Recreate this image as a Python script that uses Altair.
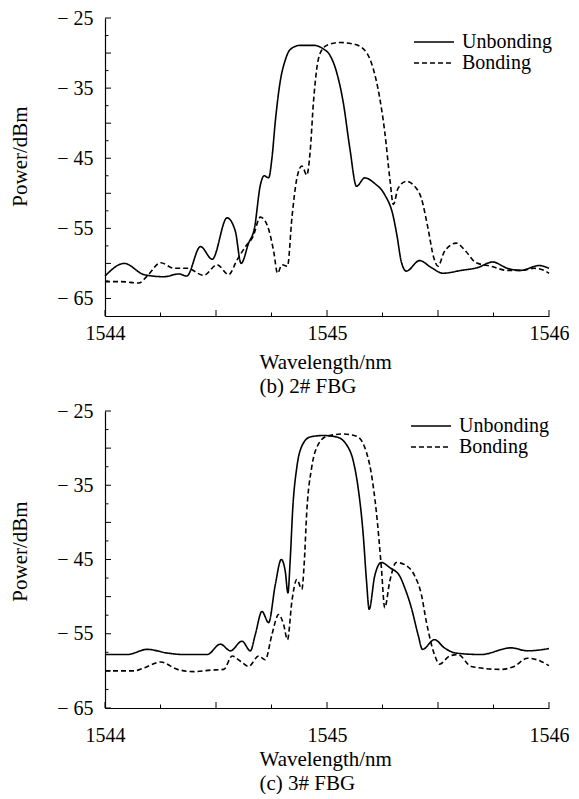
import altair as alt
import pandas as pd

FONT = "Liberation Serif"

# ---------------- (b) 2# FBG ----------------
b_unb_wl = [1544.0, 1544.087, 1544.176, 1544.266, 1544.333, 1544.368, 1544.43, 1544.483, 1544.55, 1544.587,
            1544.613, 1544.647, 1544.673, 1544.70, 1544.717, 1544.737, 1544.752, 1544.767, 1544.789, 1544.812,
            1544.834, 1544.879, 1544.939, 1544.983, 1545.013, 1545.043, 1545.073, 1545.103, 1545.133, 1545.170,
            1545.215, 1545.26, 1545.297, 1545.315, 1545.335, 1545.357, 1545.417, 1545.47, 1545.522, 1545.604,
            1545.678, 1545.746, 1545.813, 1545.873, 1545.955, 1546.0]
b_unb_pw = [-61.8, -60.0, -61.6, -61.9, -61.5, -61.8, -57.6, -59.4, -53.5, -55.4,
            -60.0, -57.1, -55.0, -48.8, -47.5, -47.8, -45.0, -39.8, -34.1, -31.0,
            -29.5, -28.9, -28.9, -29.4, -30.3, -32.7, -37.0, -43.6, -49.0, -47.8,
            -48.6, -50.2, -53.1, -56.0, -59.8, -61.1, -59.6, -60.6, -61.4, -61.0,
            -60.6, -59.8, -60.7, -61.0, -60.3, -60.7]

b_bond_wl = [1544.0, 1544.072, 1544.152, 1544.19, 1544.251, 1544.311, 1544.371, 1544.445, 1544.505, 1544.557,
             1544.595, 1544.64, 1544.665, 1544.70, 1544.73, 1544.76, 1544.777, 1544.797, 1544.822, 1544.842,
             1544.864, 1544.887, 1544.909, 1544.924, 1544.939, 1544.954, 1544.976, 1545.006, 1545.058, 1545.118,
             1545.170, 1545.208, 1545.238, 1545.26, 1545.283, 1545.299, 1545.32, 1545.357, 1545.395, 1545.425,
             1545.455, 1545.481, 1545.5, 1545.529, 1545.582, 1545.626, 1545.671, 1545.739, 1545.813, 1545.873,
             1545.933, 1545.97, 1546.0]
b_bond_pw = [-62.6, -62.6, -62.8, -61.8, -59.9, -60.7, -60.7, -61.7, -60.2, -61.6,
             -59.5, -57.3, -56.3, -53.4, -54.5, -58.3, -61.4, -60.2, -60.4, -53.5,
             -47.9, -46.1, -47.4, -44.1, -37.0, -32.2, -29.6, -28.8, -28.5, -28.7,
             -29.6, -32.2, -36.5, -41.2, -47.9, -51.6, -49.3, -48.3, -49.0, -50.7,
             -55.0, -59.2, -60.4, -58.3, -57.1, -58.3, -59.9, -60.4, -61.0, -61.0,
             -60.7, -60.9, -61.4]

# ---------------- (c) 3# FBG ----------------
c_unb_wl = [1544.0, 1544.10, 1544.19, 1544.28, 1544.356, 1544.46, 1544.52, 1544.565, 1544.617, 1544.655,
            1544.677, 1544.707, 1544.737, 1544.767, 1544.794, 1544.812, 1544.824, 1544.834, 1544.846, 1544.864,
            1544.887, 1544.924, 1544.983, 1545.043, 1545.087, 1545.118, 1545.140, 1545.163, 1545.178, 1545.19,
            1545.215, 1545.245, 1545.283, 1545.327, 1545.35, 1545.38, 1545.41, 1545.43, 1545.484, 1545.529,
            1545.58, 1545.694, 1545.828, 1545.903, 1546.0]
c_unb_pw = [-57.8, -57.8, -57.1, -57.6, -57.8, -57.8, -56.4, -57.3, -56.0, -57.3,
            -55.1, -52.0, -53.5, -48.4, -45.0, -46.6, -49.5, -45.2, -38.0, -32.6,
            -29.7, -28.5, -28.3, -28.5, -29.5, -31.7, -35.3, -41.6, -47.9, -51.7,
            -47.2, -45.4, -46.1, -47.2, -48.8, -51.5, -55.1, -57.1, -55.8, -56.9,
            -57.6, -57.8, -56.9, -57.3, -57.0]

c_bond_wl = [1544.0, 1544.13, 1544.176, 1544.251, 1544.326, 1544.40, 1544.475, 1544.535, 1544.573, 1544.61,
             1544.647, 1544.692, 1544.722, 1544.752, 1544.782, 1544.804, 1544.822, 1544.842, 1544.864, 1544.887,
             1544.897, 1544.909, 1544.931, 1544.954, 1544.999, 1545.073, 1545.133, 1545.170, 1545.2, 1545.222,
             1545.245, 1545.26, 1545.283, 1545.312, 1545.35, 1545.395, 1545.425, 1545.447, 1545.484, 1545.507,
             1545.552, 1545.59, 1545.65, 1545.783, 1545.843, 1545.903, 1545.963, 1546.0]
c_bond_pw = [-60.0, -60.0, -59.6, -58.8, -59.8, -60.1, -59.9, -59.8, -58.0, -58.7,
             -59.4, -58.0, -58.5, -55.1, -52.4, -53.7, -55.8, -50.6, -47.7, -49.0,
             -45.7, -38.5, -32.6, -29.9, -28.4, -28.1, -28.4, -29.9, -33.5, -38.5,
             -46.1, -51.5, -47.9, -45.4, -45.7, -47.2, -49.7, -53.3, -57.8, -59.1,
             -58.0, -57.8, -59.4, -59.8, -59.4, -58.3, -58.7, -59.3]

series_names = ["Unbonding", "Bonding"]
x_label_vals = [1544, 1545, 1546]
y_label_vals = [-25, -35, -45, -55, -65]
x_major_ticks = [1544.0, 1544.5, 1545.0, 1545.5, 1546.0]
x_minor_ticks = [1544.25, 1544.75, 1545.25, 1545.75]
y_major_ticks = [-25, -30, -35, -40, -45, -50, -55, -60, -65]
y_minor_ticks = [-27.5, -32.5, -37.5, -42.5, -47.5, -52.5, -57.5, -62.5]

W = 444


def panel(unb_wl, unb_pw, bond_wl, bond_pw, ymin, height, caption,
          xlab_pad, xtitle_y, ytitle_y, leg_x, leg_y):
    df = pd.DataFrame({
        "wl": unb_wl + bond_wl,
        "pw": unb_pw + bond_pw,
        "series": [series_names[0]] * len(unb_wl) + [series_names[1]] * len(bond_wl),
    })
    xs = alt.Scale(domain=[1544, 1546], nice=False, zero=False)
    ys = alt.Scale(domain=[ymin, -25], nice=False, zero=False)

    xaxis = alt.Axis(
        values=x_label_vals, labelExpr="'' + round(datum.value)", ticks=False, tickSize=0, grid=False,
        labelPadding=xlab_pad, labelBaseline="alphabetic", labelFlush=False, labelOverlap=False,
        labelAlign="center",
        title=["Wavelength/nm", caption], titleAlign="left", titleX=154, titleY=xtitle_y,
        titleBaseline="alphabetic", titleLineHeight=24.5, titleFontSize=21)
    yaxis = alt.Axis(
        values=y_label_vals, ticks=False, tickSize=0, grid=False,
        labelExpr="datum.value < 0 ? '\u2212 ' + abs(datum.value) : '' + datum.value",
        labelPadding=12, labelFlush=False, labelOverlap=False,
        title="Power/dBm", titleX=-79, titleY=ytitle_y, titleFontSize=21,
        titleBaseline="alphabetic", titleAlign="center")

    lines = alt.Chart(df).mark_line(color="black", strokeWidth=1.6, interpolate="monotone").encode(
        x=alt.X("wl:Q", scale=xs, axis=xaxis),
        y=alt.Y("pw:Q", scale=ys, axis=yaxis),
        strokeDash=alt.StrokeDash("series:N", sort=series_names,
                                  scale=alt.Scale(domain=series_names, range=[[1, 0], [5, 3]]),
                                  legend=alt.Legend(orient="none", legendX=leg_x, legendY=leg_y, title=None,
                                                    symbolType="M-2,0H2", symbolSize=400,
                                                    symbolStrokeWidth=1.6, symbolStrokeColor="black",
                                                    symbolFillColor="transparent",
                                                    labelFont=FONT, labelFontSize=20, labelColor="black",
                                                    labelOffset=17, padding=0, rowPadding=0)),
    )

    def xt(vals, ln):
        return alt.Chart(pd.DataFrame({"wl": vals})).mark_rule(color="black", strokeWidth=1).encode(
            x=alt.X("wl:Q", scale=xs, axis=xaxis), y=alt.value(height), y2=alt.value(height - ln))

    def yt(vals, ln):
        return alt.Chart(pd.DataFrame({"pw": vals})).mark_rule(color="black", strokeWidth=1).encode(
            y=alt.Y("pw:Q", scale=ys, axis=yaxis), x=alt.value(0), x2=alt.value(ln))

    return alt.layer(lines, xt(x_major_ticks, 6), xt(x_minor_ticks, 3.5),
                     yt(y_major_ticks, 6), yt(y_minor_ticks, 3.5)).properties(width=W, height=height)


top = panel(b_unb_wl, b_unb_pw, b_bond_wl, b_bond_pw, -67.5, 298, "(b) 2# FBG",
            23, 52, 138, 318, 13)
bottom = panel(c_unb_wl, c_unb_pw, c_bond_wl, c_bond_pw, -65, 297, "(c) 3# FBG",
               33, 57, 140, 315, 4)

chart = alt.vconcat(top, bottom, spacing=4).resolve_legend(strokeDash="independent").resolve_scale(
    x="independent", y="independent", strokeDash="independent"
).configure_view(stroke=None).configure_axis(
    domainColor="black", domainWidth=1.2, labelFont=FONT, labelFontSize=20, labelColor="black",
    titleFont=FONT, titleFontSize=21, titleFontWeight="normal", titleColor="black"
).properties(padding=0, background="white")

chart.save("out.html", embed_options={"renderer": "svg", "actions": False})
